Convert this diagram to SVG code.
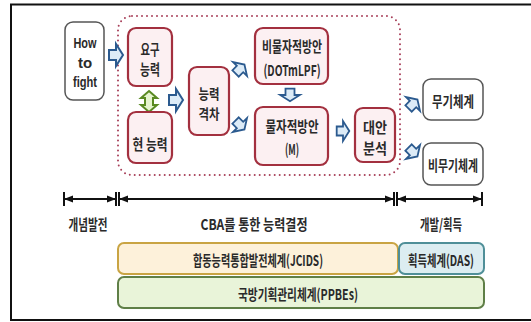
<svg xmlns="http://www.w3.org/2000/svg" xmlns:xlink="http://www.w3.org/1999/xlink" width="531" height="322" viewBox="0 0 531 322">
<style>
text{font-family:"Noto Sans CJK KR","Liberation Sans",sans-serif;font-size:15px;font-weight:bold;fill:#2a2a2a;text-anchor:middle;dominant-baseline:central}
.en{font-family:"Liberation Sans Narrow","Liberation Sans","Noto Sans CJK KR",sans-serif;font-size:15px}
.sm{font-size:14px}
.red{fill:#fcf0f2;stroke:#a3303f;stroke-width:2.2}
.grey{fill:#fff;stroke:#555;stroke-width:1.5}
.barr{fill:#dcebf7;stroke:#2b5a8f;stroke-width:2;stroke-linejoin:miter}
.tl{stroke:#111;stroke-width:2;fill:none;marker-start:url(#tick);marker-end:url(#tick)}
</style>
<defs>
<path id="ba" d="M-7,-5 H0 V-11 L7,0 L0,11 V5 H-7 Z"/>
<marker id="tick" markerUnits="userSpaceOnUse" viewBox="-10 -8 12 16" refX="0" refY="0" markerWidth="12" markerHeight="16" orient="auto-start-reverse">
<path d="M0,0 L-9,-3.5 L-9,3.5 Z" fill="#111"/>
<path d="M0,-7 V7" stroke="#111" stroke-width="2"/>
</marker>
</defs>
<rect x="11" y="4.5" width="530" height="315.5" fill="#fff" stroke="#111" stroke-width="2"/>
<g id="scope">
<rect x="118" y="16" width="282" height="159" rx="14" fill="none" stroke="#a8405a" stroke-width="2" stroke-dasharray="0 5" stroke-linecap="round"/>
</g>
<g id="connectors">
<use xlink:href="#ba" class="barr" transform="translate(116,55)"/>
<use xlink:href="#ba" class="barr" transform="translate(176,100)"/>
<use xlink:href="#ba" class="barr" transform="translate(240,69) rotate(-45) scale(0.9)"/>
<use xlink:href="#ba" class="barr" transform="translate(240,125) rotate(45) scale(0.9)"/>
<use xlink:href="#ba" class="barr" transform="translate(290,95) rotate(90) scale(0.9)"/>
<use xlink:href="#ba" class="barr" transform="translate(343,131) scale(0.9)"/>
<use xlink:href="#ba" class="barr" transform="translate(413,104) rotate(-45) scale(0.9)"/>
<use xlink:href="#ba" class="barr" transform="translate(413,152) rotate(45) scale(0.9)"/>
<path d="M149,91 L157,98 L153,98 L153,105 L157,105 L149,112 L141,105 L145,105 L145,98 L141,98 Z" fill="#e6f4cf" stroke="#5a8a22" stroke-width="2"/>
</g>
<g id="howtofight">
<rect x="65" y="22" width="39" height="78" rx="8" class="grey"/>
<text class="en" x="85" y="42" textLength="23" lengthAdjust="spacingAndGlyphs">How</text>
<text class="en" x="85" y="62">to</text>
<text class="en" x="85" y="81" textLength="24" lengthAdjust="spacingAndGlyphs">fight</text>
</g>
<g id="req">
<rect x="128" y="28" width="44" height="58" rx="8" class="red"/>
<text x="150" y="48" textLength="19" lengthAdjust="spacingAndGlyphs">요구</text>
<text x="150" y="68" textLength="20" lengthAdjust="spacingAndGlyphs">능력</text>
</g>
<g id="cur">
<rect x="128" y="112" width="44" height="51" rx="8" class="red"/>
<text x="150" y="143" textLength="35" lengthAdjust="spacingAndGlyphs">현 능력</text>
</g>
<g id="gap">
<rect x="189" y="67" width="40" height="68" rx="8" class="red"/>
<text class="sm" x="209" y="93" textLength="21" lengthAdjust="spacingAndGlyphs">능력</text>
<text class="sm" x="209" y="113" textLength="21" lengthAdjust="spacingAndGlyphs">격차</text>
</g>
<g id="nonmat">
<rect x="255" y="28" width="73" height="56" rx="8" class="red"/>
<text x="292" y="45" textLength="60" lengthAdjust="spacingAndGlyphs">비물자적방안</text>
<text x="292" y="69" textLength="57" lengthAdjust="spacingAndGlyphs">(DOTmLPF)</text>
</g>
<g id="mat">
<rect x="255" y="107" width="73" height="58" rx="8" class="red"/>
<text x="292" y="125" textLength="53" lengthAdjust="spacingAndGlyphs">물자적방안</text>
<text x="292" y="148" textLength="14" lengthAdjust="spacingAndGlyphs">(M)</text>
</g>
<g id="aoa">
<rect x="355" y="108" width="40" height="54" rx="8" class="red"/>
<text x="375" y="126" textLength="24" lengthAdjust="spacingAndGlyphs">대안</text>
<text x="375" y="147" textLength="24" lengthAdjust="spacingAndGlyphs">분석</text>
</g>
<g id="weapon">
<rect x="423" y="79" width="60" height="41" rx="8" class="grey"/>
<text x="453" y="100" textLength="42" lengthAdjust="spacingAndGlyphs">무기체계</text>
</g>
<g id="nonweapon">
<rect x="423" y="143" width="60" height="42" rx="8" class="grey"/>
<text x="453" y="164" textLength="50" lengthAdjust="spacingAndGlyphs">비무기체계</text>
</g>
<g id="timeline">
<path class="tl" d="M64,199 H116"/>
<path class="tl" d="M119,199 H394"/>
<path class="tl" d="M397,199 H482"/>
<text x="88" y="223" textLength="39" lengthAdjust="spacingAndGlyphs">개념발전</text>
<text x="254" y="223" textLength="107" lengthAdjust="spacingAndGlyphs">CBA를 통한 능력결정</text>
<text x="441" y="223" textLength="42" lengthAdjust="spacingAndGlyphs">개발/획득</text>
</g>
<g id="jcids">
<rect x="118" y="243" width="280" height="31" rx="6" fill="#fdf1da" stroke="#c9a443" stroke-width="2"/>
<text x="258" y="259" textLength="130" lengthAdjust="spacingAndGlyphs">합동능력통합발전체계(JCIDS)</text>
</g>
<g id="das">
<rect x="399" y="243" width="85" height="31" rx="6" fill="#dcedf1" stroke="#4f8f98" stroke-width="2"/>
<text x="441" y="259" textLength="66" lengthAdjust="spacingAndGlyphs">획득체계(DAS)</text>
</g>
<g id="ppbes">
<rect x="118" y="277" width="366" height="31" rx="6" fill="#e9f4d9" stroke="#5f7f47" stroke-width="2"/>
<text x="298" y="293" textLength="120" lengthAdjust="spacingAndGlyphs">국방기획관리체계(PPBEs)</text>
</g>
</svg>
